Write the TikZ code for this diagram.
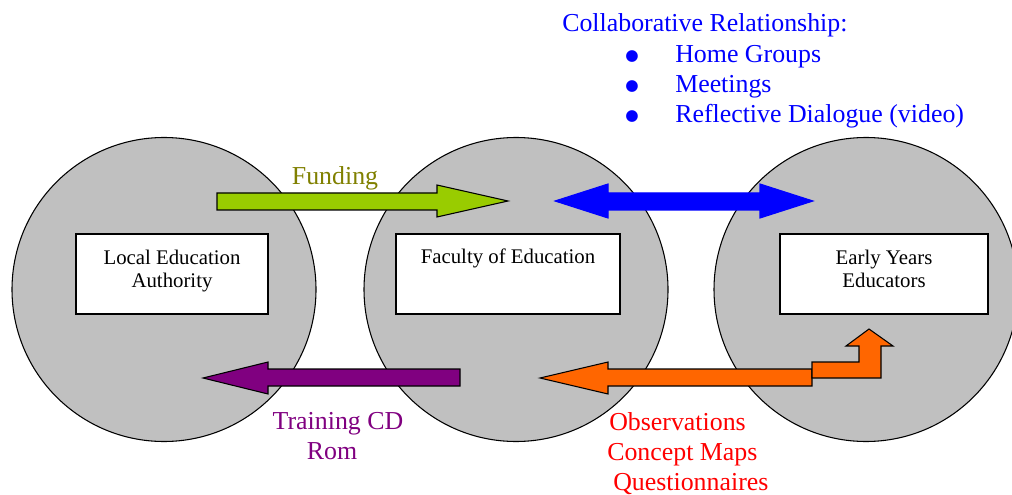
\documentclass[tikz,border=0pt]{standalone}
\usepackage{fontspec}
\setmainfont{Liberation Serif}
\newfontfamily\dejavu{DejaVu Sans}
\usetikzlibrary{positioning}

\definecolor{circgray}{RGB}{192,192,192}
\definecolor{limefill}{RGB}{153,204,0}
\definecolor{olivetext}{RGB}{128,128,0}
\definecolor{plum}{RGB}{128,0,128}
\definecolor{flame}{RGB}{255,102,0}

\tikzset{
  party/.style={circle, draw, fill=circgray, line width=0.8pt, minimum size=228pt, inner sep=0pt},
  namebox/.style={draw, fill=white, line width=0.9pt, minimum height=60pt, inner sep=0pt},
  boxtext/.style={font=\fontsize{15.6}{17.25}\selectfont, align=center, inner sep=0pt},
  bigtext/.style={font=\fontsize{19.4}{22.5}\selectfont, inner sep=0pt},
  bullettext/.style={font=\dejavu\fontsize{11.5}{12}\selectfont, inner sep=0pt}
}

\begin{document}
\begin{tikzpicture}[x=0.75pt, y=-0.75pt]
    \useasboundingbox (0,0) rectangle (1012,495);

    % the three partners
    \node[party] (lea) at (164,289.5) {};
    \node[party] (fac) at (516,289.5) {};
    \node[party] (eye) at (866,289.5) {};

    \node[namebox, minimum width=144pt] (leabox) at (172,274) {};
    \node[namebox, minimum width=168pt] (facbox) at (508,274) {};
    \node[namebox, minimum width=156pt] (eyebox) at (884,274) {};

    \node[boxtext, anchor=north] (leaname) at (172,250) {Local Education\\Authority};
    \node[boxtext, anchor=north] (facname) at (508,249) {Faculty of Education};
    \node[boxtext, anchor=north] (eyename) at (884,250) {Early Years\\Educators};

    % block arrows
    \draw[fill=limefill, line width=0.8pt] (217,193) -- (437,193) -- (437,185) -- (508,201)
      -- (437,217) -- (437,210) -- (217,210) -- cycle;
    \draw[fill=blue, draw=blue, line width=0.8pt] (555,201) -- (608,184) -- (608,193) -- (760,193)
      -- (760,184) -- (813,201) -- (760,218) -- (760,210) -- (608,210) -- (608,218) -- cycle;
    \draw[fill=plum, line width=0.8pt] (203,378) -- (268,362) -- (268,369) -- (460,369)
      -- (460,386) -- (268,386) -- (268,394) -- cycle;
    \draw[fill=flame, line width=0.8pt] (540,378) -- (608,362) -- (608,369) -- (812,369)
      -- (812,386) -- (608,386) -- (608,394) -- cycle;
    \draw[fill=flame, line width=0.8pt] (812,362) -- (859,362) -- (859,346) -- (846,346)
      -- (869,329) -- (893,346) -- (881,346) -- (881,378) -- (812,378) -- cycle;

    % labels
    \node[bigtext, text=olivetext, anchor=base] (funding) at (335,185) {Funding};
    \node[bigtext, text=plum, align=center, anchor=north] (training) at (338,412)
      {Training CD\\Rom\hspace*{9pt}};
    \node[bigtext, text=red, align=left, anchor=north west] (observe) at (607,412)
      {\hspace*{1.5pt}Observations\\Concept Maps\\\hspace*{4.5pt}Questionnaires};

    \node[bigtext, text=blue, anchor=base west] (collab) at (562,32) {Collaborative Relationship:};
    \foreach \entry [count=\i] in {Home Groups, Meetings, Reflective Dialogue (video)}
    {
      \node[bullettext, text=blue, anchor=base] (bul\i) at (632,31+30*\i) {●};
      \node[bigtext, text=blue, anchor=base west] (entry\i) at (675,33+30*\i) {\entry};
    }
\end{tikzpicture}
\end{document}
